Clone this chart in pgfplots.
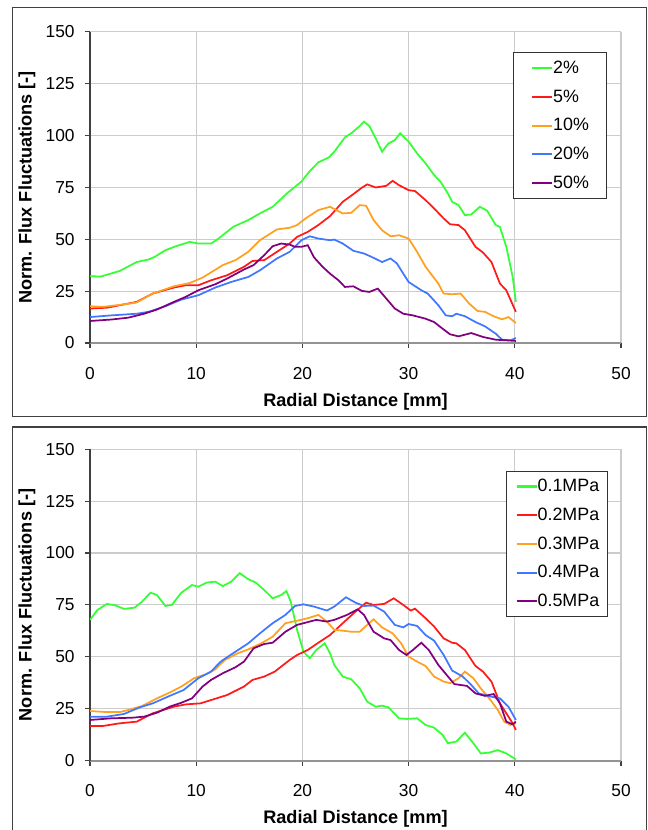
\documentclass[border=0pt]{standalone}
\usepackage{fontspec}
\setmainfont{Liberation Sans}
\usepackage{pgfplots}
\pgfplotsset{compat=1.18}

\definecolor{cGreen}{HTML}{33FF33}
\definecolor{cRed}{HTML}{FF1A1A}
\definecolor{cOrange}{HTML}{FFA020}
\definecolor{cBlue}{HTML}{3F78FF}
\definecolor{cPurple}{HTML}{800080}
\definecolor{frameGray}{HTML}{404040}

\pgfplotsset{
  fluxaxis/.style={
    scale only axis,
    width=398.25pt, height=233.6pt,
    xmin=0, xmax=50, ymin=0, ymax=150,
    xtick={0,10,...,50}, ytick={0,25,...,150},
    axis lines=left,
    axis line style={-},
    x axis line style={draw=gray!85, line width=1.6pt},
    y axis line style={draw=black!75, line width=0.8pt},
    tick align=outside,
    major tick length=4pt,
    tick style={draw=black!75, line width=0.8pt},
    grid=major,
    major grid style={draw=gray!40, line width=0.8pt},
    /pgf/number format/assume math mode=true,
    tick label style={font=\fontsize{13}{15}\selectfont},
    xticklabel style={yshift=-10.5pt},
    yticklabel style={xshift=-4pt},
    label style={font=\bfseries\fontsize{13.6}{16}\selectfont},
    xlabel={Radial Distance [mm]},
    ylabel={Norm. Flux Fluctuations [-]},
    ylabel style={at={(axis description cs:-0.1188,0.5)}, anchor=center},
    every axis plot/.append style={line width=1.3pt},
    legend image code/.code={\draw[#1, line width=1.6pt] (0pt,0pt) -- (15pt,0pt);},
    legend style={draw=black!80, line width=0.8pt, fill=white,
      font=\fontsize{13.4}{16}\selectfont,
      inner ysep=5.5pt, row sep=9.5pt,
      nodes={inner sep=0pt, text height=10pt, text depth=2pt},
      /tikz/every even column/.append style={column sep=3.6pt}},
    legend cell align=left,
  }
}

\begin{document}
\begin{tikzpicture}
\draw[frameGray, line width=0.9pt] (9.2pt,-5.5pt) rectangle (484.9pt,-312.6pt);
\draw[frameGray, line width=0.9pt] (9.2pt,-320.25pt) rectangle (484.9pt,-630pt);

% upper panel: concentration
\begin{axis}[fluxaxis,
  at={(67.5pt,-257.25pt)}, anchor=south west,
  xlabel style={at={(axis description cs:0.5,-0.1894)}, anchor=center},
  legend style={at={(axis description cs:0.797,0.933)}, anchor=north west, inner xsep=13pt},
]
\addplot[cGreen] coordinates {(0,32.2) (1,32) (2.8,34.7) (4.4,39) (5.5,40.2) (6.1,41.5) (7.1,44.7) (8.2,46.8) (9.4,48.7) (10.2,47.9) (11.4,47.9) (12.1,50.3) (13.5,56) (14.9,59.2) (16,62.4) (17.2,65.6) (18.6,72.3) (19.9,77.7) (20.7,82.8) (21.5,87) (22.5,89.4) (23,92.1) (24,99) (24.6,101) (25.4,104.5) (25.8,106.6) (26.3,104.5) (26.9,98.6) (27.5,92.1) (28.1,96.1) (28.7,97.7) (29.2,101) (30,97) (30.8,91.3) (31.6,86.5) (32.4,80.9) (33,77.7) (33.7,72) (34.1,68) (34.7,66.4) (35.3,61.6) (35.9,61.9) (36.7,65.6) (37.4,63.7) (38.2,56.8) (38.6,55.9) (39.2,46.3) (39.8,31.8) (40.1,19.8)};
\addlegendentry{2\%}
\addplot[cRed] coordinates {(0,16.6) (1.6,17) (3.2,18.6) (4.4,19.8) (5.9,23.8) (7.9,26.7) (9,27.8) (10.2,27.8) (11.4,30.2) (12.9,32.6) (14.5,36.7) (15.3,39.5) (16.4,39.9) (17.6,43.9) (18.8,47.9) (19.5,51.1) (20.5,53.5) (21.5,56.8) (22.6,61.1) (23.8,68) (24.8,71.7) (25.6,74.8) (26.1,76.4) (26.9,74.9) (27.9,75.7) (28.5,78.1) (29.1,76) (30,73.6) (30.6,73.2) (31.6,68.8) (32.4,64.8) (33.3,60) (33.9,57.2) (34.7,56.8) (35.3,54.3) (36.3,46.3) (37,43.6) (37.8,39) (38.6,28.6) (39.2,25.4) (40.1,15)};
\addlegendentry{5\%}
\addplot[cOrange] coordinates {(0,17.7) (1.2,17.4) (3.2,18.6) (4.4,19.5) (5.9,23.8) (7.9,27.3) (9.4,28.9) (10.6,31.5) (12.5,37.5) (13.7,39.9) (14.9,43.9) (16,49.5) (17.6,54.7) (18.8,55.5) (19.5,56.8) (20.3,60) (21.5,64) (22.6,65.6) (23.2,64) (23.8,62.4) (24.6,62.7) (25.4,66.4) (26,66.1) (26.7,59.2) (27.5,54.3) (28.3,51.4) (29.1,51.9) (30,50.3) (30.8,43.9) (31.6,36.7) (32.8,28.6) (33.3,23.8) (34.1,23.5) (34.9,23.8) (35.7,19) (36.5,15.4) (37.2,15) (38,12.9) (38.8,11.4) (39.4,12.5) (40.1,9.6)};
\addlegendentry{10\%}
\addplot[cBlue] coordinates {(0,12.5) (2,13.3) (4.4,14.1) (5.5,15) (7.1,17.7) (8.6,20.9) (10.2,23) (11.8,26.7) (13.3,29.4) (14.9,31.8) (16,35) (17.6,40.7) (18.8,43.9) (19.9,49.5) (20.7,51.4) (21.5,50.3) (22.6,49.5) (23,49.8) (23.8,47.9) (24.8,44.4) (25.8,43.1) (26.5,41.5) (27.5,39) (28.3,40.7) (28.9,38.3) (29.5,33.4) (30,29.4) (31.2,25.4) (31.8,23.8) (32.8,18.2) (33.5,13.3) (34.1,12.9) (34.5,14.1) (35.3,12.9) (36.3,10.1) (37.2,8) (38.2,4.5) (38.8,1.6) (39.6,1.3) (40.1,2.4)};
\addlegendentry{20\%}
\addplot[cPurple] coordinates {(0,10.6) (2,11.3) (3.6,12.2) (5.1,14.1) (6.3,16.1) (7.9,19.8) (9,22.2) (10.2,25.4) (11.8,28.3) (12.9,31) (14.5,35.4) (15.4,37.5) (16.4,42.3) (17.2,46.6) (18,47.9) (18.8,47.4) (19.3,46.3) (19.9,46.3) (20.5,47.1) (21.1,41.2) (21.9,36.7) (22.6,33.4) (23.4,30.2) (24,27) (24.8,27.3) (25.6,25.1) (26.3,24.6) (27.1,26.2) (27.9,21.4) (28.7,16.6) (29.5,14.1) (30.4,13.3) (31.6,11.7) (32.4,10.1) (33.2,6.9) (33.9,4.2) (34.7,3.2) (35.9,4.8) (37,2.9) (38.2,1.6) (40.1,1)};
\addlegendentry{50\%}
\end{axis}

% lower panel: pressure
\begin{axis}[fluxaxis,
  at={(67.5pt,-570.5pt)}, anchor=south west,
  xlabel style={at={(axis description cs:0.5,-0.187)}, anchor=center},
  legend style={at={(axis description cs:0.784,0.931)}, anchor=north west, inner xsep=6.5pt},
]
\addplot[cGreen] coordinates {(0,67.8) (0.7,72.6) (1.6,75.5) (2.4,74.8) (3.2,73.1) (4.2,73.7) (4.9,76.6) (5.7,80.9) (6.3,79.8) (7.1,74.5) (7.7,75) (8.6,80.9) (9.6,84.6) (10.2,83.8) (11,85.8) (11.8,86.2) (12.5,84.1) (13.3,86.2) (14.1,90.3) (14.9,87.4) (15.6,85.8) (16.4,82.2) (17.2,78.2) (18,79.8) (18.5,81.7) (18.9,76.6) (19.5,63) (20.1,52.5) (20.7,49.3) (21.3,53.3) (22.1,56.5) (22.6,51.7) (23,46.1) (23.8,40.5) (24.6,39.2) (25.4,34.8) (26.1,28.4) (26.9,26) (27.5,26.5) (28.1,25.7) (29.1,20.4) (29.8,20.1) (30.8,20.4) (31.6,17.2) (32.4,15.9) (33.2,12.4) (33.7,8.4) (34.5,9.2) (35.3,13.5) (36.1,8.4) (36.8,3.5) (37.6,3.9) (38.4,5.1) (39.2,3.5) (40.1,0.6)};
\addlegendentry{0.1MPa}
\addplot[cRed] coordinates {(0,16.7) (1.2,16.7) (2.8,18) (4.4,18.8) (5.9,22.8) (7.9,26) (9,27.1) (10.4,27.6) (11.4,29.2) (12.9,31.6) (14.5,35.7) (15.3,38.9) (16.4,40.5) (17.4,42.9) (18.8,48.5) (19.5,50.9) (20.5,53.3) (21.5,56.8) (22.6,60.5) (23.8,66.2) (25,71.8) (26,76.1) (26.7,75) (27.7,75.5) (28.6,78.2) (29.5,75) (30.2,72.3) (30.6,73.2) (31.6,68.6) (32.4,64.6) (33.3,58.9) (34.1,56.8) (34.5,56.5) (35.3,53.3) (36.3,45.6) (37,42.9) (37.8,38.1) (38.6,27.6) (39.2,22.8) (39.8,18) (40.1,14.8)};
\addlegendentry{0.2MPa}
\addplot[cOrange] coordinates {(0,23.9) (1.6,23.4) (2.8,23.4) (3.6,24.4) (4.9,26.3) (6.3,30) (7.5,32.8) (8.6,35.7) (9.8,39.7) (11,41.8) (11.8,44) (12.7,48.5) (13.9,51.7) (14.9,53.6) (16,56.2) (17.2,59.7) (18.4,66.2) (19.5,67.4) (20.5,68.6) (21.5,70.2) (22.3,67) (23,63) (23.8,62.6) (24.6,62.1) (25.4,62.1) (26.1,65.4) (26.7,68.1) (27.5,64.2) (28.5,61.3) (29.3,56.5) (30,50.1) (30.8,47.7) (31.6,45.6) (32.4,40.5) (33.3,38.1) (33.9,37.3) (34.7,39.7) (35.3,42.9) (36.1,39.7) (36.8,34.8) (37.6,30) (38.4,24.4) (39,18.8) (39.6,17.2) (40.1,18)};
\addlegendentry{0.3MPa}
\addplot[cBlue] coordinates {(0,21.2) (1.6,21.2) (3.2,22.5) (4.7,25.7) (5.9,27.6) (7.5,31.2) (8.8,34) (10.2,39.7) (11.4,42.9) (12.3,47.7) (13.7,52.5) (14.9,56.5) (16,61.3) (17.2,66.2) (18.4,70.2) (19.3,74.5) (20.1,75.3) (21.1,74.2) (22.3,72.3) (23,74.2) (24.1,78.7) (25,76.1) (25.8,74.5) (26.7,74.7) (27.7,71.8) (28.7,65.4) (29.5,64.2) (30,65.8) (30.8,64.9) (31.6,60.5) (32.4,57.8) (33.3,50.9) (34.1,43.4) (35.1,40.5) (35.9,36.5) (36.6,32.4) (37.8,30.8) (38.6,30) (39.4,26) (40.1,19.6)};
\addlegendentry{0.4MPa}
\addplot[cPurple] coordinates {(0,19.6) (2,20.4) (4,20.7) (5.1,21.2) (6.3,23.1) (7.5,26) (8.6,27.9) (9.6,30) (10.6,35.7) (11.4,38.9) (12.5,42.1) (13.7,45) (14.5,47.7) (15.4,54.1) (16.4,56.2) (17.2,56.8) (18.4,62.1) (19.5,65.4) (20.7,67) (21.3,67.8) (22.3,67) (23,67.8) (24.2,70.2) (25.2,72.9) (25.8,70.2) (26.7,62.1) (27.7,58.9) (28.3,58.1) (29.1,53.3) (29.8,50.9) (30.4,53.3) (31.2,56.8) (31.9,53.3) (32.8,46.1) (33.5,41.8) (34.3,36.9) (35.5,36) (36.3,32.4) (37.2,31.2) (38,32.1) (38.6,27.6) (39.2,18.8) (39.8,17.5) (40.1,18.8)};
\addlegendentry{0.5MPa}
\end{axis}

\pgfresetboundingbox
\path[use as bounding box] (0pt,0pt) rectangle (486pt,-622.5pt);
\end{tikzpicture}
\end{document}
